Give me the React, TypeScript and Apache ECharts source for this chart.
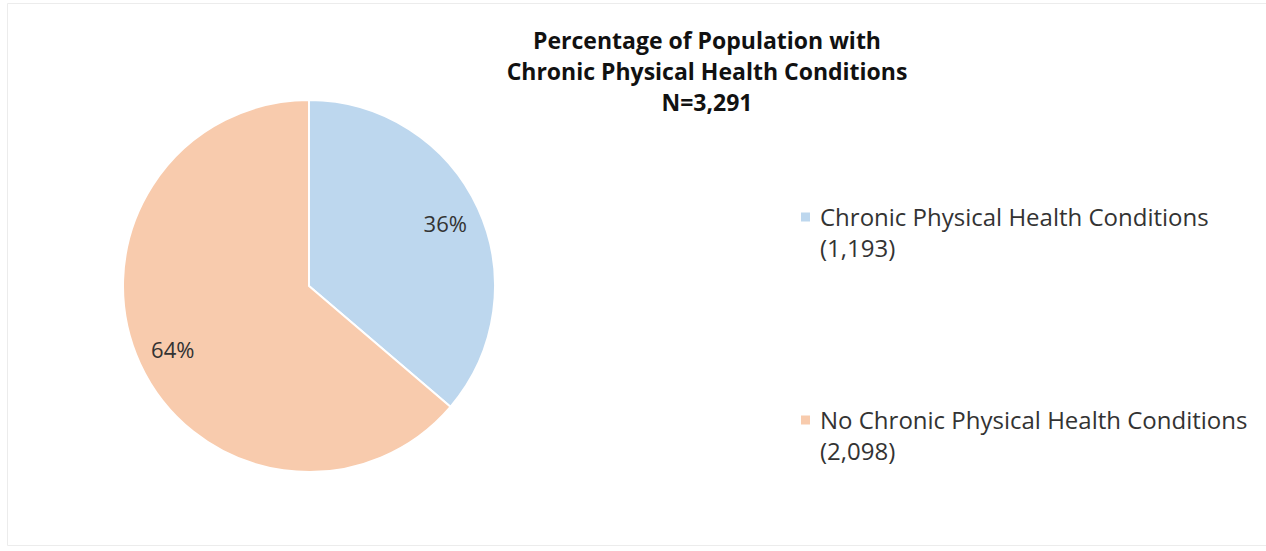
import React, { useEffect, useRef } from "react";
import * as echarts from "echarts";

const titleLines = ["Percentage of Population with", "Chronic Physical Health Conditions", "N=3,291"];
const categories = ["Chronic Physical Health Conditions", "No Chronic Physical Health Conditions"];
const counts = [1193, 2098];
const countLabels = ["(1,193)", "(2,098)"];
const colors = ["#bdd7ee", "#f8cbad"];

const FONT = "'Open Sans', 'Noto Sans', sans-serif";

export default function App() {
  const ref = useRef<HTMLDivElement>(null);
  useEffect(() => {
    document.body.style.margin = "0";
    const chart = echarts.init(ref.current!, null, { renderer: "svg" });
    const total = counts.reduce((a, b) => a + b, 0);
    const data = categories.map((name, i) => ({
      name,
      value: counts[i],
      itemStyle: { color: colors[i] },
    }));
    chart.setOption({
      animation: false,
      backgroundColor: "#ffffff",
      title: {
        text: titleLines.join("\n"),
        left: 707,
        textAlign: "center",
        top: 24,
        padding: 0,
        textStyle: {
          fontFamily: FONT,
          fontWeight: "bold",
          fontSize: 23,
          lineHeight: 31,
          color: "#111111",
        },
      },
      legend: {
        orient: "vertical",
        left: 801,
        top: 201,
        padding: 0,
        itemWidth: 14,
        itemHeight: 39,
        itemGap: 141,
        icon: "path://M0,0H9V9H0Z M14,39L14.01,39",
        itemStyle: { borderWidth: 0 },
        data: categories,
        formatter: (name: string) => {
          const i = categories.indexOf(name);
          return name + "\n" + countLabels[i];
        },
        textStyle: {
          fontFamily: FONT,
          fontSize: 24,
          lineHeight: 31,
          color: "#333333",
        },
      },
      graphic: [
        {
          type: "rect",
          shape: { x: 7.5, y: 3.5, width: 1300, height: 542 },
          style: { fill: "none", stroke: "#ececec", lineWidth: 1 },
          silent: true,
        },
      ],
      series: [
        {
          type: "pie",
          center: [309, 286],
          radius: [0, 186],
          startAngle: 90,
          clockwise: true,
          data,
          label: { show: false },
          labelLine: { show: false },
          itemStyle: { borderColor: "#ffffff", borderWidth: 2 },
          emphasis: { disabled: true },
        },
        {
          type: "pie",
          center: [309, 286],
          radius: [108, 186],
          startAngle: 90,
          clockwise: true,
          silent: true,
          data: data.map((d) => ({ ...d, itemStyle: { color: "rgba(0,0,0,0)" } })),
          label: {
            show: true,
            position: "inside",
            formatter: (p: any) => Math.round((p.value / total) * 100) + "%",
            fontFamily: FONT,
            fontSize: 22,
            color: "#333333",
          },
          labelLine: { show: false },
          emphasis: { disabled: true },
        },
      ],
    });
    return () => chart.dispose();
  }, []);
  return <div ref={ref} style={{ width: 1266, height: 551 }} />;
}
